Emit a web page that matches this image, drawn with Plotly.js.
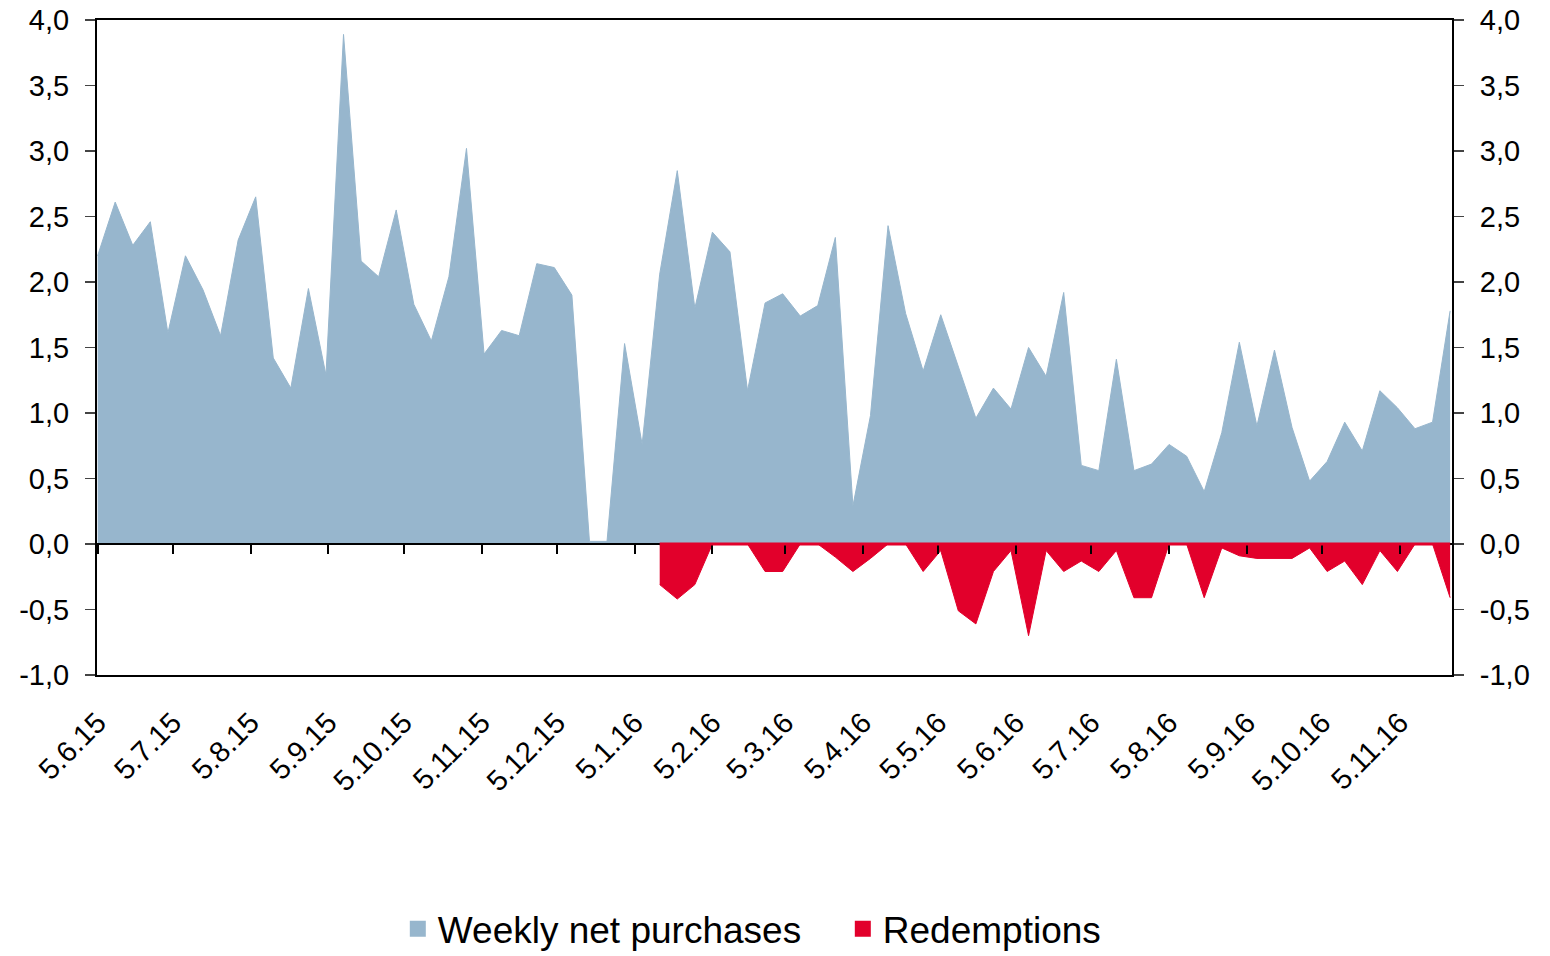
<!DOCTYPE html>
<html>
<head>
<meta charset="utf-8">
<script src="https://cdn.plot.ly/plotly-3.0.1.min.js"></script>
<style>
  html, body { margin: 0; padding: 0; background: #ffffff; }
  #chart { width: 1550px; height: 956px; }
</style>
</head>
<body>
<div id="chart"></div>
<script>
// Weekly dates (Fridays)
const weeks = [
  '2015-06-05','2015-06-12','2015-06-19','2015-06-26','2015-07-03','2015-07-10','2015-07-17','2015-07-24','2015-07-31',
  '2015-08-07','2015-08-14','2015-08-21','2015-08-28','2015-09-04','2015-09-11','2015-09-18','2015-09-25',
  '2015-10-02','2015-10-09','2015-10-16','2015-10-23','2015-10-30','2015-11-06','2015-11-13','2015-11-20','2015-11-27',
  '2015-12-04','2015-12-11','2015-12-18','2015-12-25',
  '2016-01-01','2016-01-08','2016-01-15','2016-01-22','2016-01-29','2016-02-05','2016-02-12','2016-02-19','2016-02-26',
  '2016-03-04','2016-03-11','2016-03-18','2016-03-25','2016-04-01','2016-04-08','2016-04-15','2016-04-22','2016-04-29',
  '2016-05-06','2016-05-13','2016-05-20','2016-05-27','2016-06-03','2016-06-10','2016-06-17','2016-06-24',
  '2016-07-01','2016-07-08','2016-07-15','2016-07-22','2016-07-29','2016-08-05','2016-08-12','2016-08-19','2016-08-26',
  '2016-09-02','2016-09-09','2016-09-16','2016-09-23','2016-09-30','2016-10-07','2016-10-14','2016-10-21','2016-10-28',
  '2016-11-04','2016-11-11','2016-11-18','2016-11-25'
];

// Weekly net purchases
const purchases = [
  2.20, 2.61, 2.28, 2.46, 1.61, 2.20, 1.94, 1.59, 2.32,
  2.65, 1.42, 1.19, 1.95, 1.29, 3.89, 2.16, 2.04,
  2.55, 1.83, 1.55, 2.04, 3.02, 1.45, 1.63, 1.59, 2.14,
  2.11, 1.90, 0.02, 0.02,
  1.53, 0.76, 2.06, 2.85, 1.80, 2.38, 2.23, 1.17, 1.84,
  1.91, 1.74, 1.82, 2.34, 0.29, 0.98, 2.43, 1.76, 1.32,
  1.75, 1.36, 0.96, 1.19, 1.03, 1.50, 1.28, 1.92,
  0.60, 0.56, 1.41, 0.56, 0.61, 0.76, 0.67, 0.40, 0.85,
  1.54, 0.90, 1.48, 0.89, 0.48, 0.63, 0.93, 0.71, 1.17,
  1.04, 0.88, 0.93, 1.78
];

// Redemptions (null = no data)
const redemptions = [
  null, null, null, null, null, null, null, null, null,
  null, null, null, null, null, null, null, null,
  null, null, null, null, null, null, null, null, null,
  null, null, null, null,
  null, null, -0.31, -0.42, -0.31, 0.00, 0.00, 0.00, -0.21,
  -0.21, 0.00, 0.00, -0.10, -0.21, -0.11, 0.00, 0.00, -0.21,
  -0.05, -0.51, -0.61, -0.21, -0.05, -0.70, -0.05, -0.21,
  -0.13, -0.21, -0.05, -0.41, -0.41, 0.00, 0.00, -0.41, -0.03,
  -0.09, -0.11, -0.11, -0.11, -0.03, -0.21, -0.13, -0.31, -0.05,
  -0.21, 0.00, 0.00, -0.41
];

// Tick positions and labels
const tickDates = [
  '2015-06-05','2015-07-05','2015-08-05','2015-09-05','2015-10-05','2015-11-05','2015-12-05',
  '2016-01-05','2016-02-05','2016-03-05','2016-04-05','2016-05-05','2016-06-05','2016-07-05',
  '2016-08-05','2016-09-05','2016-10-05','2016-11-05'
];
const tickLabels = [
  '5.6.15','5.7.15','5.8.15','5.9.15','5.10.15','5.11.15','5.12.15',
  '5.1.16','5.2.16','5.3.16','5.4.16','5.5.16','5.6.16','5.7.16',
  '5.8.16','5.9.16','5.10.16','5.11.16'
];
const yTicks = [-1, -0.5, 0, 0.5, 1, 1.5, 2, 2.5, 3, 3.5, 4];
const yTickLabels = ['-1,0', '-0,5', '0,0', '0,5', '1,0', '1,5', '2,0', '2,5', '3,0', '3,5', '4,0'];

const seriesNames = ['Weekly net purchases', 'Redemptions'];
const BLUE = '#97B6CD';
const RED = '#E2002B';
const FONT = 'Liberation Sans, Arial, sans-serif';
const xRange = ['2015-06-04 18:00', '2016-11-25 18:00'];
const yRange = [-1, 4];

const firstRed = redemptions.findIndex(v => v !== null);

const traces = [
  {
    type: 'scatter', mode: 'lines', x: weeks, y: purchases,
    fill: 'tozeroy', fillcolor: BLUE,
    line: { color: BLUE, width: 1 },
    xaxis: 'x', yaxis: 'y', showlegend: false, hoverinfo: 'x+y'
  },
  {
    type: 'scatter', mode: 'lines', x: weeks, y: redemptions,
    fill: 'tozeroy', fillcolor: RED,
    line: { color: RED, width: 1 },
    xaxis: 'x2', yaxis: 'y2', showlegend: false, connectgaps: false, hoverinfo: 'x+y'
  },
  {
    type: 'scatter', mode: 'markers', x: [null], y: [null], name: seriesNames[0],
    marker: { symbol: 'square', size: 16, color: BLUE },
    xaxis: 'x2', yaxis: 'y2', showlegend: true
  },
  {
    type: 'scatter', mode: 'markers', x: [null], y: [null], name: seriesNames[1],
    marker: { symbol: 'square', size: 16, color: RED },
    xaxis: 'x2', yaxis: 'y2', showlegend: true
  }
];

const layout = {
  width: 1550, height: 956,
  margin: { l: 97, r: 98, t: 20, b: 281, pad: 0, autoexpand: false },
  paper_bgcolor: '#ffffff', plot_bgcolor: '#ffffff',
  separators: ', ',
  font: { family: FONT, color: '#000000', size: 28 },
  showlegend: true,
  legend: {
    orientation: 'h', x: 0.222, xanchor: 'left', y: -0.388, yanchor: 'middle',
    font: { family: FONT, size: 37, color: '#000' },
    itemwidth: 30, entrywidth: 400, entrywidthmode: 'pixels'
  },
  xaxis: {
    type: 'date', range: xRange,
    tickmode: 'array', tickvals: tickDates, ticktext: tickLabels,
    tickangle: -45, ticks: '', ticklabelstandoff: 17,
    tickfont: { family: FONT, size: 29, color: '#000' },
    showgrid: false, zeroline: false, automargin: false,
    showline: true, linecolor: '#000', linewidth: 2, mirror: true
  },
  xaxis2: {
    type: 'date', range: xRange, overlaying: 'x', anchor: 'free', position: 0.2,
    tickmode: 'array', tickvals: tickDates, ticktext: tickLabels,
    ticks: 'outside', ticklen: 9, tickwidth: 2, tickcolor: '#000',
    showticklabels: false, showgrid: false, zeroline: false,
    showline: true, linecolor: '#000', linewidth: 2
  },
  yaxis: {
    range: yRange, tickmode: 'array', tickvals: yTicks, ticktext: yTickLabels,
    ticks: 'outside', ticklen: 10, tickwidth: 1.5, tickcolor: '#444',
    ticklabelstandoff: 10, automargin: false,
    tickfont: { family: FONT, size: 29, color: '#000' },
    showgrid: false, zeroline: false,
    showline: true, linecolor: '#000', linewidth: 2
  },
  yaxis2: {
    range: yRange, overlaying: 'y', side: 'right', anchor: 'x',
    tickmode: 'array', tickvals: yTicks, ticktext: yTickLabels,
    ticks: 'outside', ticklen: 10, tickwidth: 1.5, tickcolor: '#444',
    ticklabelstandoff: 10, automargin: false,
    tickfont: { family: FONT, size: 29, color: '#000' },
    showgrid: false, zeroline: false,
    showline: true, linecolor: '#000', linewidth: 2
  },
  shapes: [
    {
      type: 'line', xref: 'x', yref: 'y',
      x0: weeks[firstRed], x1: weeks[weeks.length - 1], y0: 0, y1: 0,
      line: { color: RED, width: 3 }, layer: 'above'
    }
  ]
};

Plotly.newPlot('chart', traces, layout, { staticPlot: true, displayModeBar: false });
</script>
</body>
</html>
